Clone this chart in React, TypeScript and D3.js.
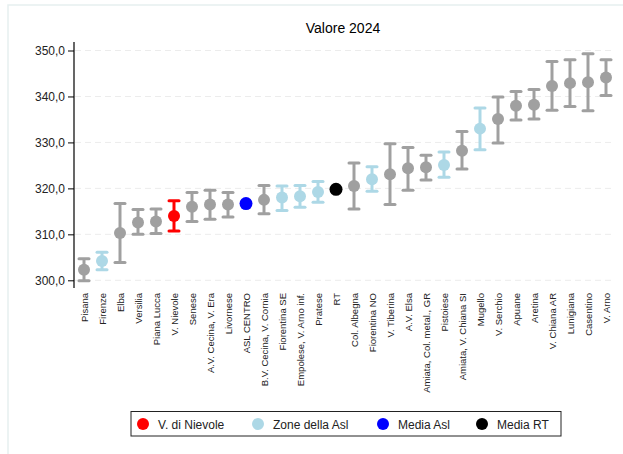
import * as d3 from 'd3'
import {useRef, useEffect} from 'react'

const categories: string[] = ['Pisana', 'Firenze', 'Elba', 'Versilia', 'Piana Lucca', 'V. Nievole', 'Senese',
  'A.V. Cecina, V. Era', 'Livornese', 'ASL CENTRO', 'B.V. Cecina, V. Cornia', 'Fiorentina SE',
  'Empolese, V. Arno inf.', 'Pratese', 'RT', 'Col. Albegna', 'Fiorentina NO', 'V. Tiberina', 'A.V. Elsa',
  'Amiata, Col. metal., GR', 'Pistoiese', 'Amiata, V. Chiana SI', 'Mugello', 'V. Serchio', 'Apuane',
  'Aretina', 'V. Chiana AR', 'Lunigiana', 'Casentino', 'V. Arno']
const values: number[] = [302.3, 304.2, 310.3, 312.6, 312.8, 314.0, 316.0, 316.5, 316.5, 316.7, 317.5, 318.0,
  318.3, 319.2, 319.8, 320.5, 322.0, 323.1, 324.4, 324.6, 325.1, 328.2, 333.0, 335.1, 338.0, 338.2,
  342.3, 342.9, 343.1, 344.1]
const lower: (number | null)[] = [299.9, 302.3, 303.9, 310.0, 310.2, 310.7, 312.8, 313.3, 313.8, null, 314.5, 315.2,
  315.9, 317.0, null, 315.5, 319.4, 316.5, 319.6, 321.8, 322.4, 324.2, 328.4, 329.9, 334.9, 335.1,
  337.0, 337.8, 336.9, 340.2]
const upper: (number | null)[] = [304.7, 306.1, 316.7, 315.4, 315.5, 317.3, 319.1, 319.6, 319.1, null, 320.6, 320.5,
  320.6, 321.5, null, 325.5, 324.7, 329.7, 328.9, 327.2, 327.9, 332.4, 337.5, 339.9, 341.1, 341.5,
  347.6, 348.0, 349.3, 348.0]
// group: 0 zona, 1 zone della asl, 2 V. di Nievole, 3 media asl, 4 media RT
const groups: number[] = [0, 1, 0, 0, 0, 2, 0, 0, 0, 3, 0, 1, 1, 1, 4, 0, 1, 0, 0, 0, 1, 0, 1, 0, 0, 0, 0, 0, 0, 0]
const yTicks: number[] = [300, 310, 320, 330, 340, 350]
const legendLabels: string[] = ['V. di Nievole', 'Zone della Asl', 'Media Asl', 'Media RT']
const legendGroups: number[] = [2, 1, 3, 4]

const colors: string[] = ['#a0a0a0', '#add8e6', '#ff0000', '#0000ff', '#000000']
const font = 'Arial, "Liberation Sans", sans-serif'

const App = () => {
  const svgRef = useRef(null)
  const svgWidth = 623
  const svgHeight = 454

  const draw = (): void => {
    const SVG = d3.select(svgRef.current)
    SVG.selectAll('*').remove()

    // outer faint frame
    SVG.append('rect')
      .attr('x', 8).attr('y', 5)
      .attr('width', 640).attr('height', 470)
      .attr('fill', 'none').attr('stroke', '#e6eff0').attr('stroke-width', 1.5)

    const xScale = d3.scalePoint<string>()
      .domain(categories)
      .range([84, 606])
    const yScale = d3.scaleLinear()
      .domain([300, 350])
      .range([280.3, 50.5])

    // title
    SVG.append('text')
      .attr('x', 343).attr('y', 33)
      .attr('text-anchor', 'middle')
      .attr('font-family', font).attr('font-size', 14)
      .text('Valore 2024')

    // grid
    SVG.append('g')
      .selectAll('line')
      .data(yTicks)
      .enter()
      .append('line')
      .attr('x1', 75).attr('x2', 612)
      .attr('y1', (d: number) => yScale(d)).attr('y2', (d: number) => yScale(d))
      .attr('stroke', '#ececec').attr('stroke-width', 1)
      .attr('stroke-dasharray', '6,4')

    // y axis
    const yAxis = d3.axisLeft(yScale)
      .tickValues(yTicks)
      .tickSize(6)
      .tickPadding(3)
      .tickFormat((d: any) => d3.format('.1f')(d).replace('.', ','))
    const gy = SVG.append('g')
      .attr('transform', 'translate(74,0)')
      .call(yAxis)
    gy.select('.domain').attr('d', 'M0,42V288').attr('stroke', '#000').attr('stroke-width', 1.2)
    gy.selectAll('text').attr('font-family', font).attr('font-size', 12).attr('fill', '#222')

    // x labels
    SVG.append('g')
      .selectAll('text')
      .data(categories)
      .enter()
      .append('text')
      .attr('transform', (d: string) => `translate(${xScale(d)! + 0.5},293) rotate(-90)`)
      .attr('dy', '0.35em')
      .attr('text-anchor', 'end')
      .attr('font-family', font).attr('font-size', 9.5)
      .attr('fill', '#222')
      .text((d: string) => d)

    // error bars
    const idx = d3.range(categories.length).filter((i: number) => lower[i] !== null)
    const bars = SVG.append('g')
    bars.selectAll('line.v')
      .data(idx)
      .enter()
      .append('line')
      .attr('x1', (i: number) => xScale(categories[i])!)
      .attr('x2', (i: number) => xScale(categories[i])!)
      .attr('y1', (i: number) => yScale(lower[i]!))
      .attr('y2', (i: number) => yScale(upper[i]!))
      .attr('stroke', (i: number) => colors[groups[i]])
      .attr('stroke-width', 3)
    ;[lower, upper].forEach((arr) => {
      bars.append('g')
        .selectAll('line')
        .data(idx)
        .enter()
        .append('line')
        .attr('x1', (i: number) => xScale(categories[i])! - 5)
        .attr('x2', (i: number) => xScale(categories[i])! + 5)
        .attr('y1', (i: number) => yScale(arr[i]!))
        .attr('y2', (i: number) => yScale(arr[i]!))
        .attr('stroke', (i: number) => colors[groups[i]])
        .attr('stroke-width', 3)
        .attr('stroke-linecap', 'round')
    })

    // points
    SVG.append('g')
      .selectAll('circle')
      .data(values)
      .enter()
      .append('circle')
      .attr('cx', (d: number, i: number) => xScale(categories[i])!)
      .attr('cy', (d: number) => yScale(d))
      .attr('r', (d: number, i: number) => (groups[i] >= 3 ? 6.5 : 6))
      .attr('fill', (d: number, i: number) => colors[groups[i]])

    // legend
    const legend = SVG.append('g')
    legend.append('rect')
      .attr('x', 131).attr('y', 411.5)
      .attr('width', 430).attr('height', 24.5)
      .attr('fill', '#fff').attr('stroke', '#222').attr('stroke-width', 1)
    const legendX = [143, 258, 383, 482]
    legendLabels.forEach((lab: string, k: number) => {
      legend.append('circle')
        .attr('cx', legendX[k]).attr('cy', 424)
        .attr('r', 6)
        .attr('fill', colors[legendGroups[k]])
      legend.append('text')
        .attr('x', legendX[k] + 15).attr('y', 428.5)
        .attr('font-family', font).attr('font-size', 12)
        .attr('fill', '#222')
        .text(lab)
    })
  }

  useEffect((): void => draw(), [])

  return <svg ref={svgRef} width={svgWidth} height={svgHeight}
    style={{position: 'absolute', left: 0, top: 0, background: '#fff'}}></svg>
}

export default App
